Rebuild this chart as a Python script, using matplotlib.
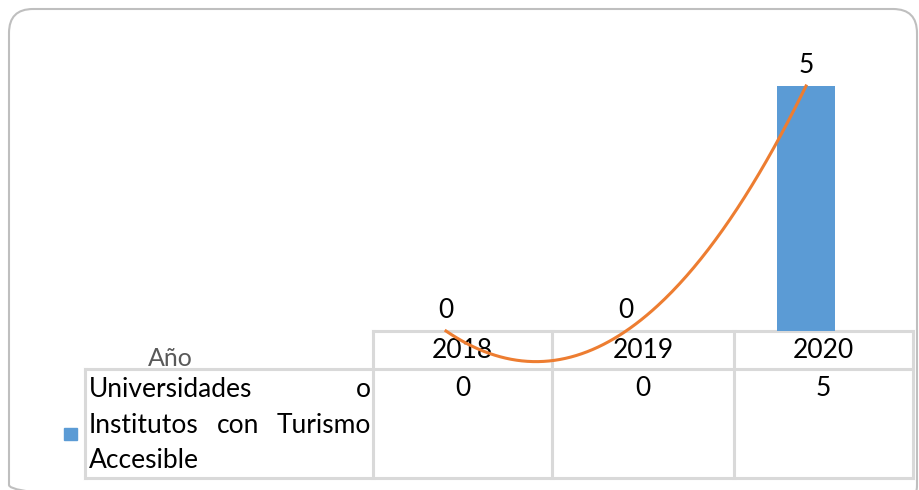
import numpy as np
import matplotlib.pyplot as plt
from matplotlib.patches import FancyBboxPatch, Rectangle

# Datos
years = ['2018', '2019', '2020']
values = [0, 0, 5]
series_name = 'Universidades o Institutos con Turismo Accesible'
label_lines = [['Universidades', 'o'], ['Institutos', 'con', 'Turismo'], ['Accesible']]
axis_title = 'Año'

bar_color = '#5B9BD5'
trend_color = '#ED7D31'
grid_color = '#D9D9D9'
plt.rcParams['font.family'] = ['Lato', 'DejaVu Sans']
fs = 19

W, H = 919, 490
fig = plt.figure(figsize=(W / 100, H / 100), dpi=100)

# capa de fondo en pixeles
bg = fig.add_axes([0, 0, 1, 1])
bg.set_xlim(0, W)
bg.set_ylim(H, 0)
bg.axis('off')

bg.add_patch(FancyBboxPatch((9, 9), 908, 500, boxstyle='round,pad=0,rounding_size=24',
                            fill=False, ec='#BFBFBF', lw=1.5, clip_on=True))

# tabla de datos
col_x = [373, 552, 734, 913]
row_top, row_mid, row_bot = 331, 369, 478
lw_t = 2.2
bg.plot([col_x[0], col_x[-1]], [row_top, row_top], color=grid_color, lw=lw_t)
bg.plot([85, col_x[-1]], [row_mid, row_mid], color=grid_color, lw=lw_t)
bg.plot([85, col_x[-1]], [row_bot, row_bot], color=grid_color, lw=lw_t)
bg.plot([85, 85], [row_mid, row_bot], color=grid_color, lw=lw_t)
for x in col_x:
    bg.plot([x, x], [row_top, row_bot], color=grid_color, lw=lw_t)

for i, (yr, v) in enumerate(zip(years, values)):
    cx = (col_x[i] + col_x[i + 1]) / 2
    bg.text(cx, 350, yr, ha='center', va='center', fontsize=fs)
    bg.text(cx, 388, str(v), ha='center', va='center', fontsize=fs)

bg.text(170, 358, axis_title, ha='center', va='center', fontsize=fs - 1, color='#595959')
bg.add_patch(Rectangle((64, 428), 13, 12, color=bar_color))

# texto justificado de la serie
fig.canvas.draw()
rend = fig.canvas.get_renderer()
left, right = 89, 371
line_y = [389, 425, 460]
for words, y in zip(label_lines, line_y):
    if len(words) == 1:
        bg.text(left, y, words[0], ha='left', va='center', fontsize=fs)
        continue
    ts = [bg.text(0, y, w, ha='left', va='center', fontsize=fs) for w in words]
    widths = [t.get_window_extent(rend).width for t in ts]
    gap = (right - left - sum(widths)) / (len(words) - 1)
    x = left
    for t, w in zip(ts, widths):
        t.set_x(x)
        x += w + gap

# grafico
ax = fig.add_axes([356 / W, (H - 380) / H, 540 / W, 367.5 / H])
ax.patch.set_alpha(0)
idx = np.arange(len(years))
ax.bar(idx, values, width=0.32, color=bar_color, zorder=2)

coef = np.polyfit(idx, values, 2)
xs = np.linspace(idx[0], idx[-1], 200)
ax.plot(xs, np.polyval(coef, xs), color=trend_color, lw=2.2, zorder=3, clip_on=False)

for i, v in zip(idx, values):
    ax.annotate(str(v), (i, v), xytext=(0, 15), textcoords='offset points',
                ha='center', va='center', fontsize=fs)

ax.set_xlim(-0.5, 2.5)
ax.set_ylim(-1, 6.5)
ax.axis('off')

fig.savefig('out.png', dpi=100)
